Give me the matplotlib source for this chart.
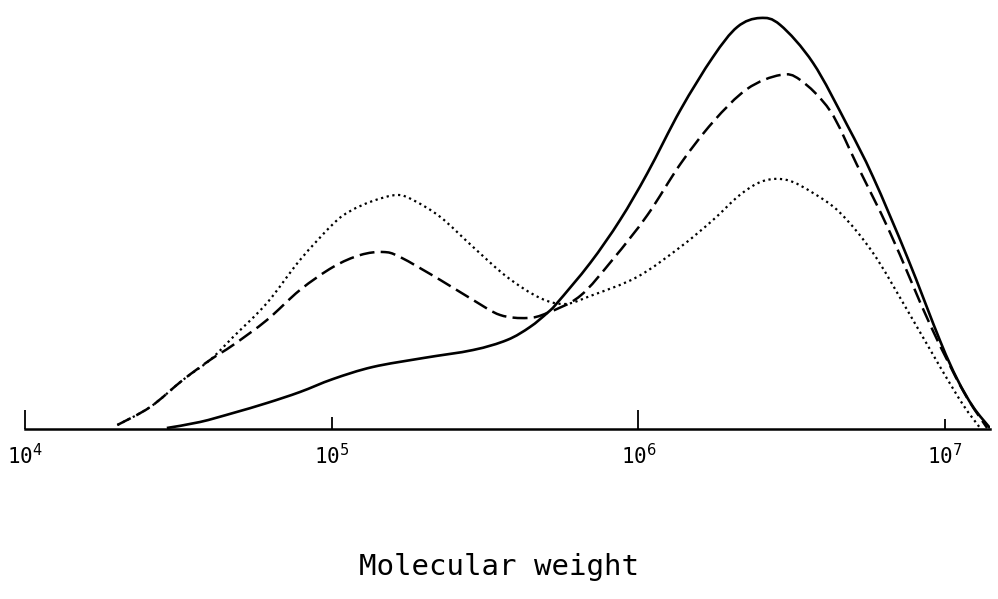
import matplotlib.pyplot as plt
import numpy as np
from matplotlib.patches import PathPatch
from matplotlib.path import Path

# molecular weight (x) and relative amount (y)
M_SOLID = [2.90e4, 3.72e4, 4.77e4, 6.15e4, 7.88e4, 1.01e5, 1.36e5, 1.99e5,
           2.89e5, 3.73e5, 4.43e5, 5.04e5, 5.43e5, 6.96e5, 8.71e5, 1.07e6,
           1.37e6, 1.75e6, 2.10e6, 2.49e6, 2.90e6, 3.71e6, 4.79e6, 5.82e6,
           7.52e6, 9.63e6, 1.094e7, 1.234e7, 1.40e7]
Y_SOLID = [1, 7, 16, 26, 37, 50, 62, 71, 79, 89, 102, 116, 126, 166, 209,
           256, 319, 372, 402, 411, 404, 366, 304, 252, 172, 88, 50, 22, 1]

M_DASHED = [2.00e4, 2.56e4, 3.27e4, 4.01e4, 4.77e4, 6.15e4, 7.88e4, 1.01e5,
            1.24e5, 1.47e5, 1.67e5, 2.26e5, 2.89e5, 3.54e5, 4.34e5, 5.04e5,
            6.45e5, 8.27e5, 1.07e6, 1.37e6, 1.75e6, 2.26e6, 2.90e6, 3.37e6,
            4.22e6, 5.16e6, 6.62e6, 8.94e6, 1.145e7, 1.37e7]
Y_DASHED = [4, 22, 49, 69, 84, 109, 139, 162, 174, 177, 172, 149, 129, 114,
            111, 116, 133, 170, 214, 265, 307, 340, 354, 349, 318, 264, 196,
            104, 38, 1]

M_DOTTED = [2.00e4, 2.56e4, 3.27e4, 4.01e4, 4.77e4, 6.15e4, 7.88e4, 1.01e5,
            1.15e5, 1.36e5, 1.63e5, 1.84e5, 2.26e5, 2.89e5, 3.73e5, 4.78e5,
            5.77e5, 6.96e5, 9.90e5, 1.37e6, 1.75e6, 2.14e6, 2.55e6, 3.05e6,
            3.71e6, 4.55e6, 5.82e6, 7.52e6, 9.63e6, 1.145e7, 1.30e7]
Y_DOTTED = [4, 22, 49, 69, 92, 126, 169, 205, 218, 228, 234, 229, 212, 182,
            152, 131, 125, 133, 152, 182, 209, 234, 248, 249, 236, 216, 176,
            119, 62, 24, 1]

TICKS = [1e4, 1e5, 1e6, 1e7]
TICK_LABELS = ["10$^4$", "10$^5$", "10$^6$", "10$^7$"]
TICK_LEN = [14, 9, 14, 7]

MONO = "DejaVu Sans Mono"


def smooth_path(ms, ys):
    """Bezier path through every (m, y) point, built in log-x space."""
    pts = np.column_stack([np.log10(ms), ys]).astype(float)
    n = len(pts)
    verts, codes = [pts[0]], [Path.MOVETO]
    for i in range(n - 1):
        p0, p1 = pts[max(i - 1, 0)], pts[i]
        p2, p3 = pts[i + 1], pts[min(i + 2, n - 1)]
        verts += [p1 + (p2 - p0) / 6, p2 - (p3 - p1) / 6, p2]
        codes += [Path.CURVE4] * 3
    verts = np.array(verts)
    verts[:, 0] = 10 ** verts[:, 0]
    return Path(verts, codes)


fig = plt.figure(figsize=(9.98, 5.99), dpi=100)
ax = fig.add_axes([25 / 998, 170 / 599, 965 / 998, 429 / 599])
ax.set_xscale("log")
ax.set_xlim(1e4, 1.40e7)
ax.set_ylim(0, 429)

for m, y, ls, lw in [(M_SOLID, Y_SOLID, "-", 1.9),
                     (M_DASHED, Y_DASHED, (0, (6, 2.5)), 1.8),
                     (M_DOTTED, Y_DOTTED, (0, (1, 1.6)), 1.6)]:
    ax.add_patch(PathPatch(smooth_path(m, y), fill=False, edgecolor="black",
                           lw=lw, linestyle=ls, capstyle="butt"))

for s in ("top", "right", "left"):
    ax.spines[s].set_visible(False)
ax.spines["bottom"].set_linewidth(1.8)
ax.set_yticks([])
ax.minorticks_off()
ax.set_xticks(TICKS)
ax.set_xticklabels(TICK_LABELS, fontfamily=MONO, fontsize=15)
ax.tick_params(axis="x", direction="in", width=1.3, pad=10, which="major")
for t, ln in zip(ax.xaxis.get_major_ticks(), TICK_LEN):
    t.tick1line.set_markersize(ln)

fig.text(0.5, 1 - 567 / 599, "Molecular weight", ha="center", va="center",
         fontfamily=MONO, fontsize=21)

fig.savefig("out.png", dpi=100, facecolor="white")
